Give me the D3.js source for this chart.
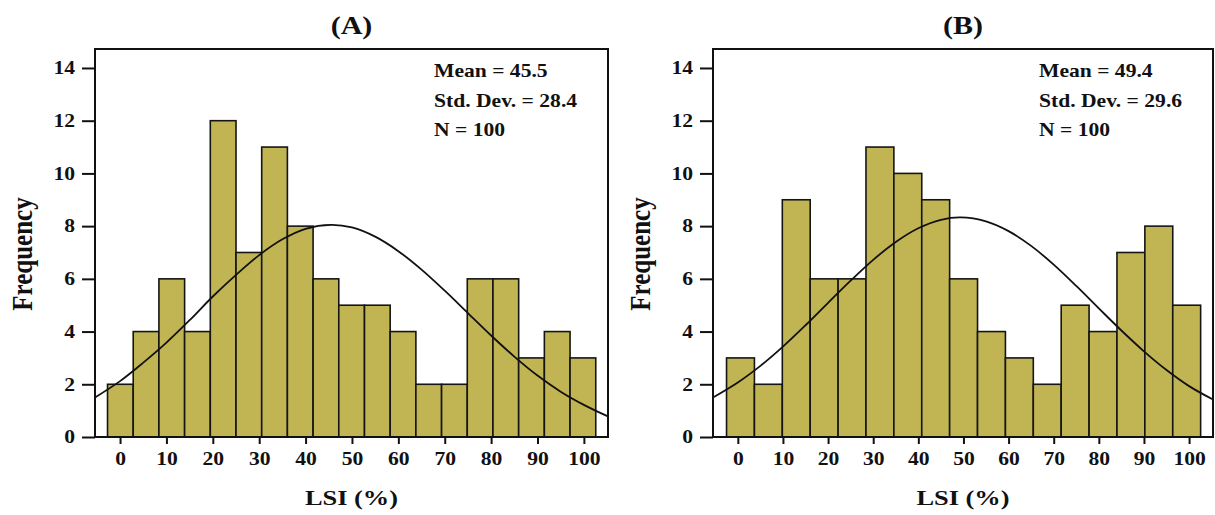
<!DOCTYPE html>
<html>
<head>
<meta charset="utf-8">
<script src="https://d3js.org/d3.v7.min.js"></script>
<style>
  body { margin: 0; background: #fff; }
  text { font-family: 'Liberation Serif', 'Times New Roman', serif; font-weight: bold; fill: #111; }
</style>
</head>
<body>
<svg id="chart" width="1215" height="515"></svg>
<script>
// ---- data ----
var xTicks = [0, 10, 20, 30, 40, 50, 60, 70, 80, 90, 100];
var yTicks = [0, 2, 4, 6, 8, 10, 12, 14];

var edgesA = [-2.7, 2.84, 8.38, 13.92, 19.46, 25.0, 30.54, 36.08, 41.62, 47.16, 52.7,
              58.24, 63.78, 69.32, 74.86, 80.4, 85.94, 91.48, 97.02, 102.56];
var countsA = [2, 4, 6, 4, 12, 7, 11, 8, 6, 5, 5, 4, 2, 2, 6, 6, 3, 4, 3];
var curveXA = [-5.4, 0, 5, 10, 15, 20, 25, 30, 35, 40, 45.5, 50, 55, 60, 65, 70, 75, 80, 85, 90, 95, 100, 105.2];
var curveYA = [1.5, 2.12, 2.82, 3.58, 4.43, 5.33, 6.15, 6.9, 7.5, 7.9, 8.05, 7.95, 7.6, 7.05, 6.35, 5.55, 4.7, 3.85, 3.05, 2.33, 1.72, 1.22, 0.78];
var statsA = ["Mean = 45.5", "Std. Dev. = 28.4", "N = 100"];

var edgesB = [-2.5, 3.68, 9.86, 16.04, 22.22, 28.4, 34.58, 40.76, 46.94, 53.12, 59.3,
              65.48, 71.66, 77.84, 84.02, 90.2, 96.38, 102.56];
var countsB = [3, 2, 9, 6, 6, 11, 10, 9, 6, 4, 3, 2, 5, 4, 7, 8, 5];
var curveXB = [-5.5, 0, 5, 10, 15, 20, 25, 30, 35, 40, 45, 49.4, 55, 60, 65, 70, 75, 80, 85, 90, 95, 100, 105.3];
var curveYB = [1.5, 2.07, 2.7, 3.43, 4.24, 5.09, 5.93, 6.72, 7.4, 7.92, 8.24, 8.33, 8.18, 7.81, 7.25, 6.54, 5.73, 4.88, 4.04, 3.25, 2.54, 1.93, 1.42];
var statsB = ["Mean = 49.4", "Std. Dev. = 29.6", "N = 100"];

// ---- layout ----
var SX = 1.2;           // the figure is stretched horizontally
var barColor = "#c1b553";
var plotTop = 49, plotBottom = 437;
var svg = d3.select("#chart");

function drawPanel(title, left, right, xDomain, edges, counts, cx, cy, stats) {
    var x = d3.scaleLinear().domain(xDomain).range([left, right]);
    var y = d3.scaleLinear().domain([0, 14.72]).range([plotBottom, plotTop]);
    var g = svg.append("g");
    var mid = (left + right) / 2;

    g.selectAll("rect.bar")
        .data(counts)
        .join("rect")
        .attr("class", "bar")
        .attr("x", function (d, i) { return x(edges[i]); })
        .attr("width", function (d, i) { return x(edges[i + 1]) - x(edges[i]); })
        .attr("y", function (d) { return y(d); })
        .attr("height", function (d) { return y(0) - y(d); })
        .attr("fill", barColor)
        .attr("stroke", "#151515")
        .attr("stroke-width", 1.6);

    var line = d3.line()
        .x(function (d) { return x(d[0]); })
        .y(function (d) { return y(d[1]); })
        .curve(d3.curveCatmullRom);
    g.append("path")
        .datum(cx.map(function (v, i) { return [v, cy[i]]; }))
        .attr("d", line)
        .attr("fill", "none")
        .attr("stroke", "#111")
        .attr("stroke-width", 1.8);

    g.append("rect")
        .attr("x", left).attr("y", plotTop)
        .attr("width", right - left).attr("height", plotBottom - plotTop)
        .attr("fill", "none")
        .attr("stroke", "#111")
        .attr("stroke-width", 2);

    var xa = g.append("g")
        .attr("transform", "translate(0," + plotBottom + ")")
        .call(d3.axisBottom(x).tickValues(xTicks).tickSize(7).tickPadding(8));
    var ya = g.append("g")
        .attr("transform", "translate(" + left + ",0)")
        .call(d3.axisLeft(y).tickValues(yTicks).tickSize(13));
    [xa, ya].forEach(function (a) {
        a.select(".domain").remove();
        a.selectAll("line").attr("stroke", "#111").attr("stroke-width", 2);
        a.selectAll("text")
            .style("font-family", "'Liberation Serif', serif")
            .style("font-weight", "bold")
            .style("font-size", "18px")
            .attr("fill", "#111");
    });
    xa.selectAll("text").attr("transform", "scale(" + SX + ",1)");
    ya.selectAll("text").attr("x", -20 / SX).attr("transform", "scale(" + SX + ",1)");

    g.append("text")
        .attr("transform", "translate(" + mid + ",34) scale(" + SX + ",1)")
        .attr("text-anchor", "middle")
        .style("font-size", "25px")
        .text(title);

    g.append("text")
        .attr("transform", "translate(" + mid + ",505) scale(" + SX + ",1)")
        .attr("text-anchor", "middle")
        .style("font-size", "22px")
        .text("LSI (%)");

    g.append("text")
        .attr("transform", "translate(" + (left - 63) + ",254) scale(" + SX + ",1) rotate(-90)")
        .attr("text-anchor", "middle")
        .style("font-size", "25px")
        .text("Frequency");

    stats.forEach(function (s, i) {
        g.append("text")
            .attr("transform", "translate(" + (right - 174) + "," + (77 + i * 29.5) + ") scale(" + SX + ",1)")
            .style("font-size", "18px")
            .text(s);
    });
}

drawPanel("(A)", 95, 608, [-5.4, 105.2], edgesA, countsA, curveXA, curveYA, statsA);
drawPanel("(B)", 713, 1213, [-5.5, 105.3], edgesB, countsB, curveXB, curveYB, statsB);
</script>
</body>
</html>
